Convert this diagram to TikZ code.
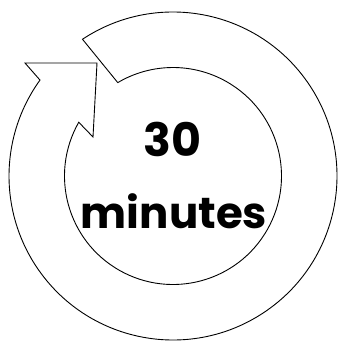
\documentclass[tikz,border=0pt]{standalone}
\usepackage{fontspec}
\setmainfont{Poppins}
\begin{document}
\begin{tikzpicture}[x=1pt,y=1pt,
  ring/.style={draw=black,line width=0.9pt,line join=miter,fill=white},
  label/.style={font=\fontsize{46}{50}\selectfont\bfseries,anchor=base,inner sep=0pt}]
\fill[white] (0,0) rectangle (338,341);
\useasboundingbox (0,0) rectangle (338,341);
\coordinate (C) at (173,165);
\coordinate (tip) at (25,278);
\coordinate (hr) at (97,278);
\coordinate (hb) at (93,204);
\draw[ring] ([shift={(C)}]123.5:164) arc[start angle=123.5,end angle=-215.8,radius=164]
  -- (tip) -- (hr) -- (hb) -- ([shift={(C)}]150.3:108.5)
  arc[start angle=-209.7,end angle=120.6,radius=108.5] -- cycle;
\node[label] (t30) at (172.5,184) {30};
\node[label,font=\fontsize{43.5}{48}\selectfont\bfseries] (tmin) at (174,113) {minutes};
\end{tikzpicture}
\end{document}
